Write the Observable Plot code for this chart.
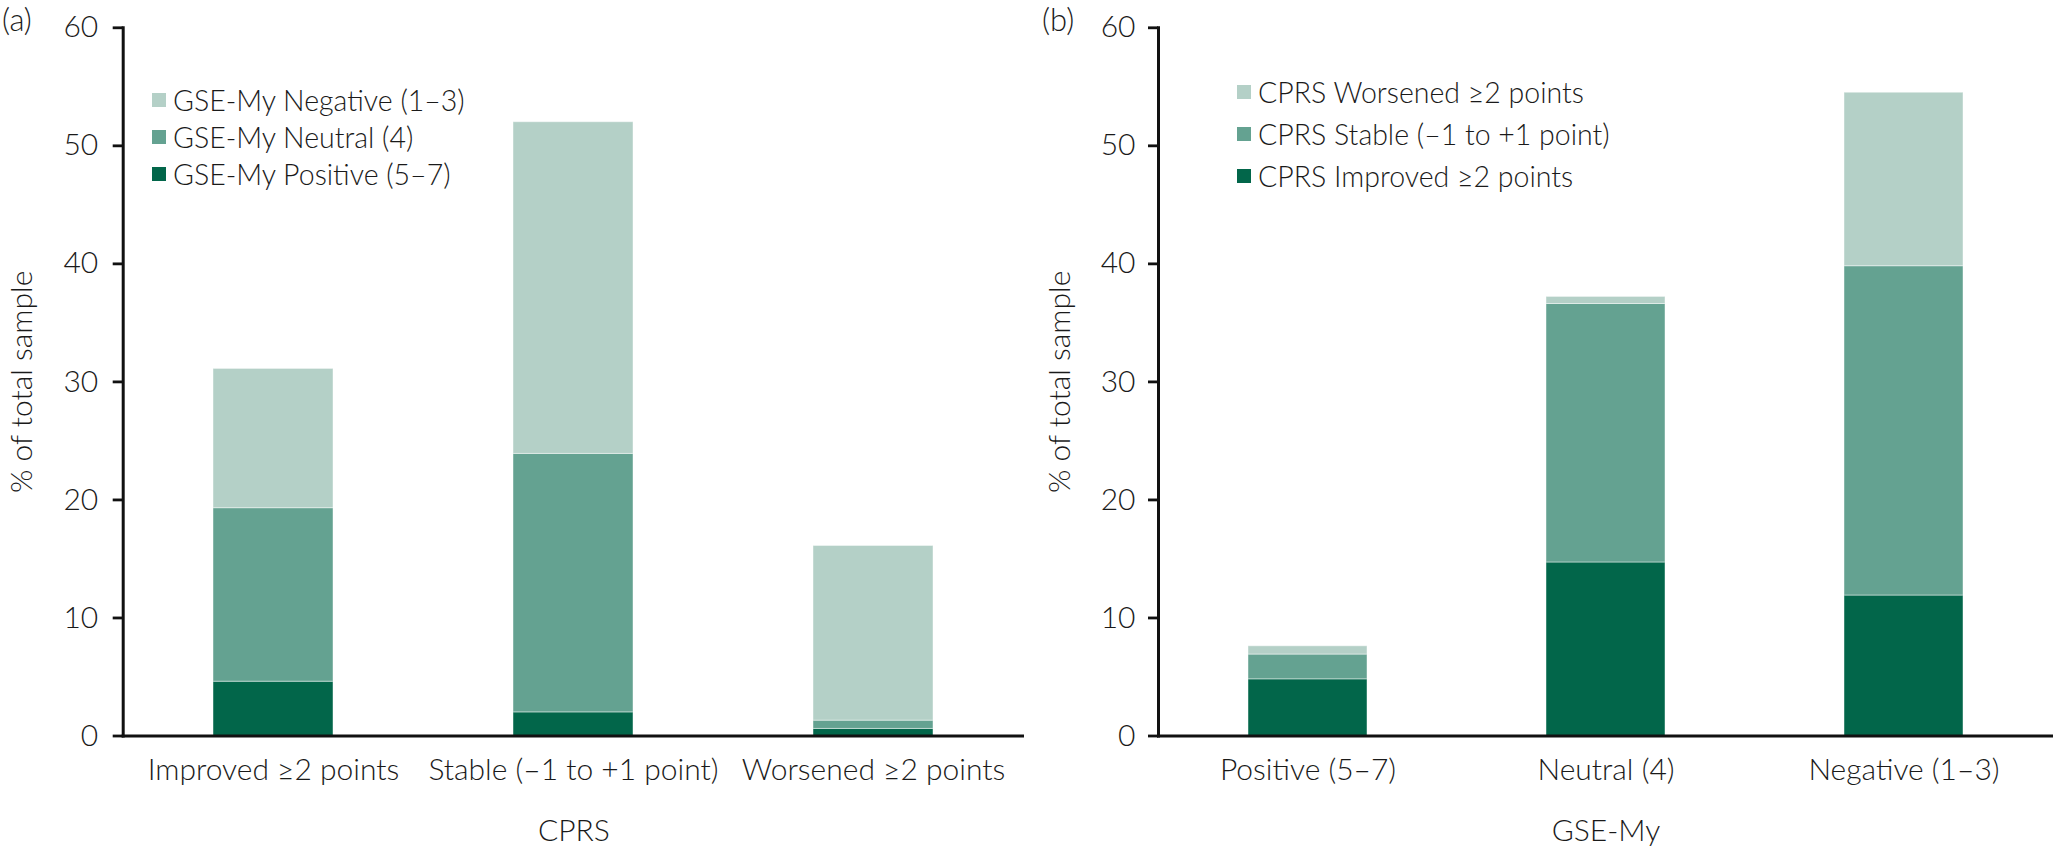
<!DOCTYPE html>
<html>
<head>
<meta charset="utf-8">
<script src="https://cdn.jsdelivr.net/npm/d3@7"></script>
<script src="https://cdn.jsdelivr.net/npm/@observablehq/plot@0.6"></script>
<style>
  html, body { margin: 0; padding: 0; background: #fff; }
  #wrap { position: relative; width: 2053px; height: 852px; display: flex; font-family: Lato, "Open Sans", sans-serif; color: #1a1a1a; }
  #wrap svg { display: block; }
  .tag { position: absolute; font-size: 31px; font-weight: 300; line-height: 1; }
  .legend { position: absolute; font-size: 28.5px; font-weight: 300; }
  .legend .row { display: flex; align-items: center; white-space: nowrap; }
  .legend .sw { width: 14px; height: 14px; margin-right: 7px; flex: none; }
</style>
</head>
<body>
<div id="wrap"></div>
<script>
// ---- data ----
const cprsCats = ["Improved ≥2 points", "Stable (–1 to +1 point)", "Worsened ≥2 points"];
const gseCats = ["Positive (5–7)", "Neutral (4)", "Negative (1–3)"];

// Panel (a): x = CPRS change, stacked by GSE-My (bottom to top)
const gseSeries = ["GSE-My Positive (5–7)", "GSE-My Neutral (4)", "GSE-My Negative (1–3)"];
const aPositive = [4.6, 2.0, 0.6];
const aNeutral = [14.7, 21.9, 0.7];
const aNegative = [11.8, 28.1, 14.8];

// Panel (b): x = GSE-My, stacked by CPRS change (bottom to top)
const cprsSeries = ["CPRS Improved ≥2 points", "CPRS Stable (–1 to +1 point)", "CPRS Worsened ≥2 points"];
const bImproved = [4.8, 14.7, 11.9];
const bStable = [2.1, 21.9, 27.9];
const bWorsened = [0.7, 0.6, 14.7];

const yTicks = [0, 10, 20, 30, 40, 50, 60];
const shades = ["#02664a", "#64a291", "#b4d0c7"];

function rows(cats, series, cols) {
  const out = [];
  series.forEach((s, si) => cats.forEach((c, ci) => out.push({cat: c, series: s, value: cols[si][ci]})));
  return out;
}
const dataA = rows(cprsCats, gseSeries, [aPositive, aNeutral, aNegative]);
const dataB = rows(gseCats, cprsSeries, [bImproved, bStable, bWorsened]);

function panel({data, cats, series, width, marginLeft, xLabel, tickPad, yLabelOffset}) {
  return Plot.plot({
    width, height: 852,
    marginLeft, marginRight: 0, marginTop: 27.3, marginBottom: 116.5,
    style: {fontFamily: "Lato, 'Open Sans', sans-serif", fontSize: "30px", fontWeight: 300, color: "#1a1a1a", background: "#fff", overflow: "visible"},
    x: {domain: cats, paddingInner: 0.6, paddingOuter: 0.3},
    y: {domain: [0, 60]},
    color: {domain: series, range: shades},
    marks: [
      Plot.barY(data, {x: "cat", y: "value", fill: "series", stroke: "#fff", strokeOpacity: 0.45, strokeWidth: 1}),
      Plot.axisY({ticks: yTicks, tickSize: 10, tickPadding: tickPad, strokeWidth: 2.8, stroke: "#111",
        label: "% of total sample", labelAnchor: "center", labelArrow: "none", labelOffset: yLabelOffset}),
      Plot.axisX({tickSize: 0, tickPadding: 23, label: xLabel, labelAnchor: "center", labelArrow: "none", labelOffset: 105}),
      Plot.frame({anchor: "left", stroke: "#111", strokeWidth: 3}),
      Plot.frame({anchor: "bottom", stroke: "#111", strokeWidth: 3})
    ]
  });
}

const wrap = document.getElementById("wrap");
wrap.appendChild(panel({data: dataA, cats: cprsCats, series: gseSeries, width: 1024, marginLeft: 122.7, xLabel: "CPRS", tickPad: 15, yLabelOffset: 113}));
wrap.appendChild(panel({data: dataB, cats: gseCats, series: cprsSeries, width: 1029, marginLeft: 134, xLabel: "GSE-My", tickPad: 13, yLabelOffset: 110}));

function tag(text, left, top) {
  const d = document.createElement("div");
  d.className = "tag"; d.textContent = text;
  d.style.left = left + "px"; d.style.top = top + "px";
  wrap.appendChild(d);
}
tag("(a)", 2, 4);
tag("(b)", 1042, 4);

function legend(series, left, top, rowH) {
  const d = document.createElement("div");
  d.className = "legend";
  d.style.left = left + "px"; d.style.top = top + "px";
  series.map((s, i) => [s, shades[i]]).reverse().forEach(([s, c]) => {
    const r = document.createElement("div");
    r.className = "row"; r.style.height = rowH + "px";
    const sw = document.createElement("span");
    sw.className = "sw"; sw.style.background = c;
    const t = document.createElement("span"); t.textContent = s;
    r.appendChild(sw); r.appendChild(t); d.appendChild(r);
  });
  wrap.appendChild(d);
}
legend(gseSeries, 152, 100 - 18.5, 37);
legend(cprsSeries, 1237, 92 - 21, 42);
</script>
</body>
</html>
